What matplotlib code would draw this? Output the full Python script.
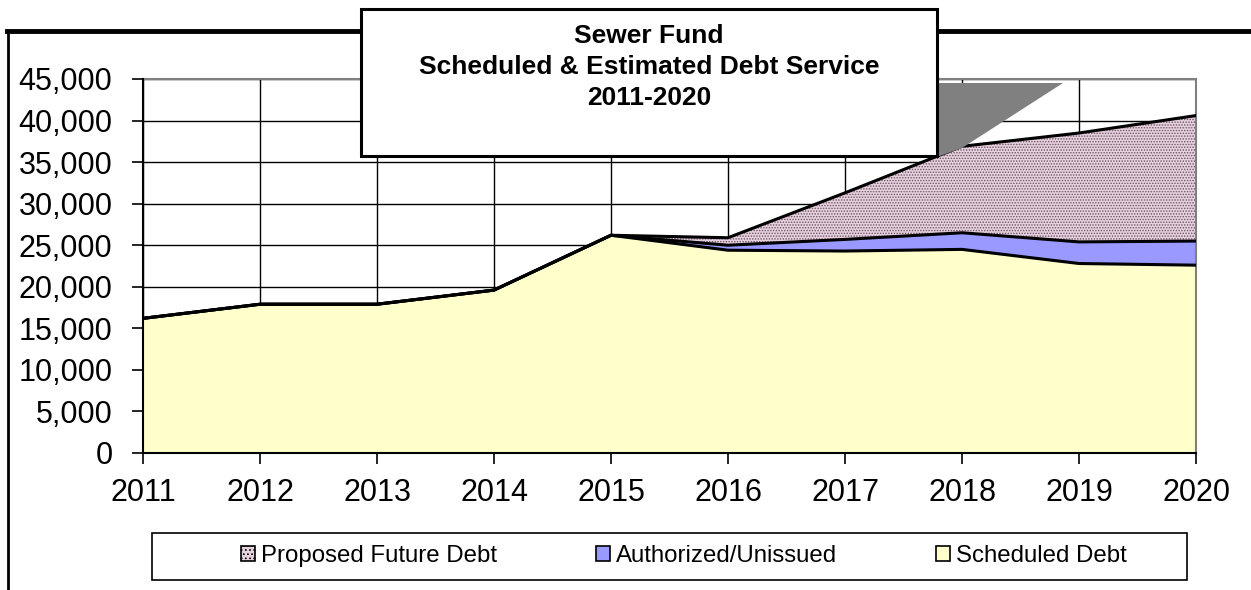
import matplotlib
matplotlib.use("Agg")
import matplotlib.pyplot as plt
from matplotlib.patches import Patch, Rectangle, Polygon
from matplotlib.ticker import FuncFormatter
import numpy as np

plt.rcParams['font.family'] = ['Liberation Sans', 'DejaVu Sans']
plt.rcParams['hatch.linewidth'] = 0.7

years = [2011, 2012, 2013, 2014, 2015, 2016, 2017, 2018, 2019, 2020]
scheduled = [16200, 17900, 17900, 19600, 26200, 24400, 24300, 24500, 22800, 22600]
authorized = [0, 0, 0, 0, 0, 600, 1400, 2000, 2600, 2900]
proposed = [0, 0, 0, 0, 0, 900, 5600, 10400, 13100, 15100]
series_names = ["Proposed Future Debt", "Authorized/Unissued", "Scheduled Debt"]
title_lines = ["Sewer Fund", "Scheduled & Estimated Debt Service", "2011-2020"]
y_ticks = list(range(0, 45001, 5000))

W, H = 1251, 590
fig = plt.figure(figsize=(W / 100, H / 100), dpi=100)

def fx(px):
    return px / W

def fy(py):
    return 1 - py / H

# plot area
x0, x1, ytop, ybot = 143, 1196, 79, 453
ax = fig.add_axes([fx(x0), fy(ybot), fx(x1) - fx(x0), fy(ytop) - fy(ybot)])

s = np.array(scheduled, dtype=float)
a = s + np.array(authorized, dtype=float)
p = a + np.array(proposed, dtype=float)

col_sched = '#FFFFCC'
col_auth = '#9999FF'
col_prop = '#E6D2DE'
hatch_col = '#6E5064'

ax.fill_between(years, 0, s, facecolor=col_sched, edgecolor='none', zorder=2)
ax.fill_between(years, s, a, facecolor=col_auth, edgecolor='none', zorder=2)
ax.fill_between(years, a, p, facecolor=col_prop, edgecolor=hatch_col, hatch='......',
                linewidth=0, zorder=2)
for arr in (s, a, p):
    ax.plot(years, arr, color='black', lw=2.2, zorder=3, solid_joinstyle='round')

ax.set_xlim(years[0], years[-1])
ax.set_ylim(0, 45000)
ax.set_xticks(years)
ax.set_yticks(y_ticks)
ax.yaxis.set_major_formatter(FuncFormatter(lambda v, _: f"{int(v):,}"))
ax.tick_params(axis='both', direction='out', length=8, width=1.2, color='black',
               labelsize=22, labelcolor='black')
ax.tick_params(axis='x', pad=10)
ax.tick_params(axis='y', pad=14)
ax.grid(True, color='black', lw=1.0, zorder=1)
ax.set_axisbelow(True)
for side in ('top', 'right'):
    ax.spines[side].set_color('#808080')
    ax.spines[side].set_linewidth(1.5)
for side in ('left', 'bottom'):
    ax.spines[side].set_color('black')
    ax.spines[side].set_linewidth(1.5)
    ax.spines[side].set_zorder(4)

# outer chart frame
fig.add_artist(plt.Line2D([fx(7), 1], [fy(31), fy(31)], color='black', lw=3.5,
                          transform=fig.transFigure, solid_capstyle='projecting'))
fig.add_artist(plt.Line2D([fx(8), fx(8)], [fy(31), 0], color='black', lw=2.0, transform=fig.transFigure))

# callout pointer
tri = Polygon([(fx(937), fy(83)), (fx(1063), fy(83)), (fx(962), fy(148)), (fx(937), fy(157))],
              closed=True, facecolor='#808080', edgecolor='none', transform=fig.transFigure, zorder=5)
fig.add_artist(tri)

# title box
box = Rectangle((fx(361), fy(156)), fx(937) - fx(361), fy(9) - fy(156), facecolor='white',
                edgecolor='black', lw=2.2, transform=fig.transFigure, zorder=6)
fig.add_artist(box)
for txt, yy in zip(title_lines, [36, 67, 98]):
    fig.text(fx(649), fy(yy), txt, ha='center', va='center', fontsize=19, fontweight='bold',
             color='black', zorder=7)

# legend box
lbox = Rectangle((fx(152), fy(580)), fx(1187) - fx(152), fy(533) - fy(580), facecolor='white',
                 edgecolor='black', lw=1.2, transform=fig.transFigure, zorder=6)
fig.add_artist(lbox)
handles = [
    Patch(facecolor=col_prop, edgecolor='black', hatch='....', lw=1.2),
    Patch(facecolor=col_auth, edgecolor='black', lw=1.2),
    Patch(facecolor=col_sched, edgecolor='black', lw=1.2),
]
leg = fig.legend(handles, series_names, ncol=3, loc='center left',
                 bbox_to_anchor=(fx(241), fy(556)), fontsize=17.3, frameon=False,
                 handlelength=0.6, handleheight=0.6, handletextpad=0.25,
                 columnspacing=4.1, borderpad=0.0, borderaxespad=0.0)
leg.set_zorder(7)

fig.savefig('out.png', dpi=100, facecolor='white')
